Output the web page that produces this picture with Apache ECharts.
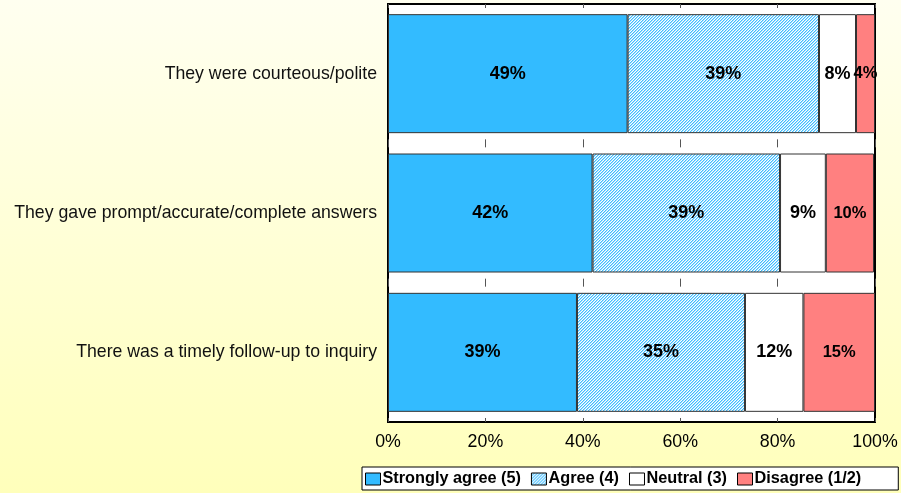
<!DOCTYPE html>
<html>
<head>
<meta charset="utf-8">
<script src="https://cdn.jsdelivr.net/npm/echarts@6/dist/echarts.min.js"></script>
<style>
html,body{margin:0;padding:0;}
#chart{width:901px;height:493px;background:linear-gradient(to bottom,#FFFFF0 0%,#FFFFBB 100%);}
</style>
</head>
<body>
<div id="chart"></div>
<script>
const categories = ['They were courteous/polite', 'They gave prompt/accurate/complete answers', 'There was a timely follow-up to inquiry'];
const seriesNames = ['Strongly agree (5)', 'Agree (4)', 'Neutral (3)', 'Disagree (1/2)'];
const stronglyAgree = [49.2, 42.0, 38.8];
const agree = [39.3, 38.5, 34.5];
const neutral = [7.6, 9.4, 12.0];
const disagree = [3.9, 9.9, 14.7];
const xTicks = [0, 20, 40, 60, 80, 100];

function hatch() {
  const c = document.createElement('canvas');
  c.width = 3; c.height = 3;
  const ctx = c.getContext('2d');
  ctx.fillStyle = '#ffffff';
  ctx.fillRect(0, 0, 3, 3);
  for (let y = 0; y < 3; y++) {
    ctx.fillStyle = '#3DBDFF';
    ctx.fillRect((2 - y + 3) % 3, y, 1, 1);
    ctx.fillStyle = '#A8E0FF';
    ctx.fillRect((3 - y + 3) % 3, y, 1, 1);
  }
  return { image: c, repeat: 'repeat' };
}

const chart = echarts.init(document.getElementById('chart'), null, { renderer: 'canvas' });
const font = '"Liberation Sans", Arial, sans-serif';
const fills = ['#33BBFF', hatch(), '#FFFFFF', '#FF8080'];
const values = [stronglyAgree, agree, neutral, disagree];
const labelSizes = [18, 18, 18, 16.5];

chart.setOption({
  animation: false,
  grid: {
    left: 388, right: 26, top: 4, bottom: 71,
    show: true, backgroundColor: '#ffffff', borderColor: '#000000', borderWidth: 2
  },
  xAxis: {
    type: 'value', min: xTicks[0], max: xTicks[xTicks.length - 1], interval: 20,
    axisLine: { show: false },
    axisTick: { show: false },
    axisLabel: {
      formatter: v => v + '%', color: '#000', fontSize: 17.8, fontFamily: font, margin: 11,
      customValues: xTicks
    },
    splitLine: {
      show: true,
      lineStyle: { color: '#555555', width: 1, type: [8, 131.33], dashOffset: 4 }
    }
  },
  yAxis: {
    type: 'category', data: categories, inverse: true,
    axisLine: { show: false }, axisTick: { show: false },
    axisLabel: { color: '#111', fontSize: 17.7, fontFamily: font, margin: 11 }
  },
  legend: {
    left: 362, top: 467,
    padding: [4, 37, 3, 3],
    itemGap: 10,
    itemWidth: 15, itemHeight: 12,
    backgroundColor: '#ffffff', borderColor: '#000000', borderWidth: 1,
    borderRadius: 0,
    icon: 'rect',
    itemStyle: { borderColor: '#000000', borderWidth: 1 },
    textStyle: { fontSize: 16.3, fontWeight: 'bold', fontFamily: font, color: '#000', padding: [0, 0, 0, -3] },
    data: seriesNames
  },
  series: seriesNames.map((name, i) => ({
    name: name,
    type: 'bar',
    stack: 'total',
    data: values[i],
    barWidth: 119,
    itemStyle: { color: fills[i], borderColor: '#333333', borderWidth: 1 },
    label: {
      show: true, position: 'inside',
      formatter: p => Math.round(p.value) + '%',
      color: '#000', fontWeight: 'bold', fontSize: labelSizes[i], fontFamily: font
    }
  }))
});
</script>
</body>
</html>
